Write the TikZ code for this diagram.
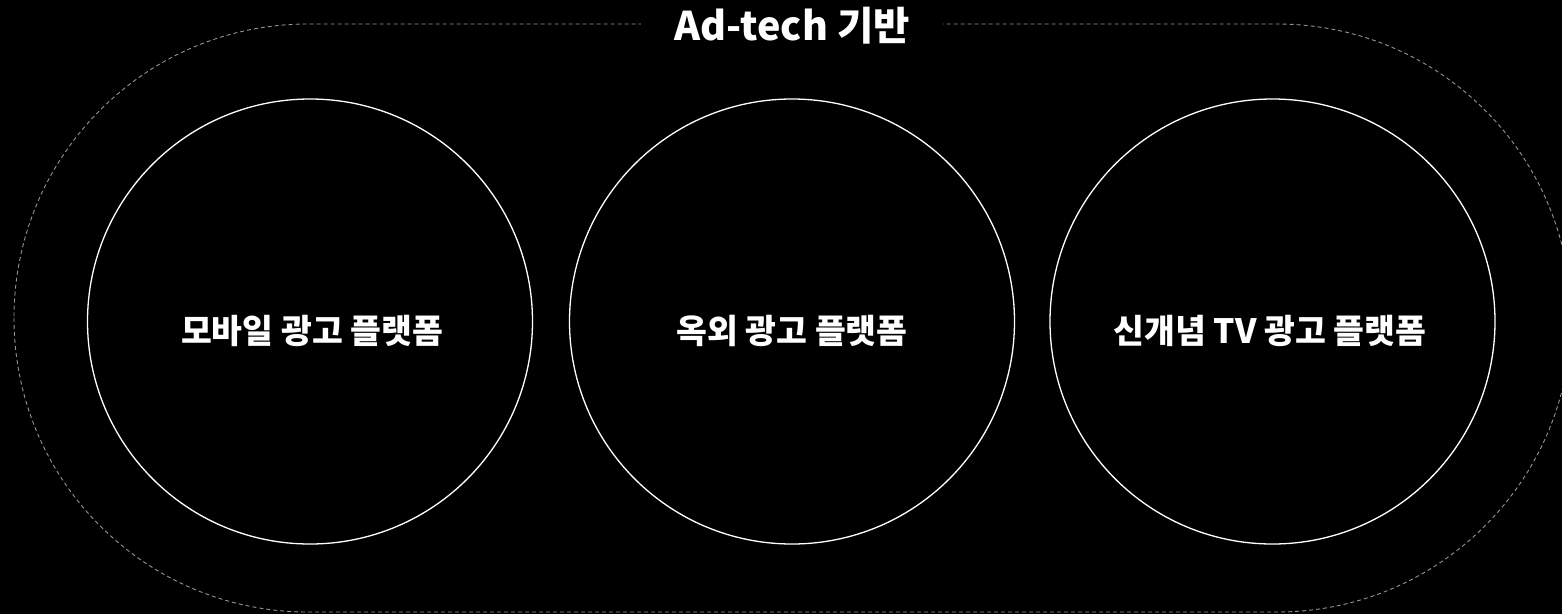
\documentclass[tikz,border=0pt]{standalone}
\usepackage{fontspec}
\setmainfont{Noto Sans CJK KR}
\begin{document}
\begin{tikzpicture}[x=1pt,y=-1pt,
  ring/.style={circle, draw=white, line width=1.3pt, minimum size=445pt, inner sep=0pt},
  lbl/.style={text=white, font=\fontsize{33.5}{37}\selectfont\bfseries, inner sep=0pt},
  ttl/.style={text=white, fill=black, font=\fontsize{39.5}{43}\selectfont\bfseries, inner xsep=33pt, inner ysep=2pt},
  outer/.style={draw=white!58!black, line width=0.9pt, dash pattern=on 4pt off 3pt}]
\useasboundingbox (0,0) rectangle (1562,614);
\fill[black] (0,0) rectangle (1562,614);
\begin{scope}
\clip (0,0) rectangle (1562,614);
\draw[outer, rounded corners=294pt] (14,24) rectangle (1571,612);
\end{scope}
\node[ttl] (title) at (792,26) {Ad-tech 기반};
\node[ring] (c1) at (310,321.5) {};
\node[ring] (c2) at (792,321.5) {};
\node[ring] (c3) at (1272.5,321.5) {};
\node[lbl] (t1) at (312,331) {모바일 광고 플랫폼};
\node[lbl] (t2) at (792,331) {옥외 광고 플랫폼};
\node[lbl] (t3) at (1270,331) {신개념 TV 광고 플랫폼};
\end{tikzpicture}
\end{document}
